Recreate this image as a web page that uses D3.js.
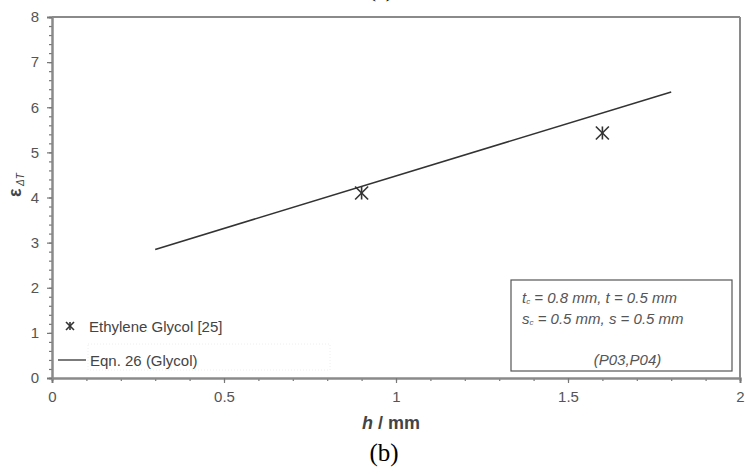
<!DOCTYPE html>
<html>
<head>
<meta charset="utf-8">
<script src="https://cdn.jsdelivr.net/npm/d3@7/dist/d3.min.js"></script>
<style>
  html, body { margin: 0; padding: 0; background: #fff; }
  svg { display: block; }
  text { font-family: "Liberation Sans", Arial, sans-serif; }
</style>
</head>
<body>
<svg id="chart" width="745" height="474"></svg>
<script>
// Measured data: Ethylene Glycol [25]
const measuredH = [0.9, 1.6];
const measuredEps = [4.1, 5.43];
// Eqn. 26 (Glycol) prediction, straight line between its end points
const eqnH = [0.3, 1.8];
const eqnEps = [2.85, 6.34];
// Axis ticks
const xTicks = [0, 0.5, 1, 1.5, 2];
const xTickLabels = ["0", "0.5", "1", "1.5", "2"];
const yTicks = [0, 1, 2, 3, 4, 5, 6, 7, 8];
// Parameter box text
const infoLines = [
  ["t", "c", " = 0.8 mm, t = 0.5 mm"],
  ["s", "c", " = 0.5 mm, s = 0.5 mm"]
];
const infoFooter = "(P03,P04)";
const legendItems = ["Ethylene Glycol [25]", "Eqn. 26 (Glycol)"];

const svg = d3.select("#chart");
const plotL = 52, plotR = 740, plotT = 17, plotB = 378;
const x = d3.scaleLinear().domain([0, 2]).range([plotL, plotR]);
const y = d3.scaleLinear().domain([0, 8]).range([plotB, plotT]);
const axisColor = "#8a8a8a";
const serif = '"Liberation Serif", "Times New Roman", serif';

// Frame: top and right edges
svg.append("line").attr("x1", plotL).attr("x2", plotR).attr("y1", plotT).attr("y2", plotT)
  .attr("stroke", axisColor).attr("stroke-width", 2);
svg.append("line").attr("x1", plotR).attr("x2", plotR).attr("y1", plotT).attr("y2", plotB)
  .attr("stroke", axisColor).attr("stroke-width", 2);

// Minor ticks
const xMinor = d3.range(0, 2.0001, 0.1);
const yMinor = d3.range(0, 8.0001, 0.2);

svg.append("g").attr("transform", `translate(0,${plotB})`)
  .call(d3.axisBottom(x).tickValues(xMinor).tickSize(3).tickFormat(""));
svg.append("g").attr("transform", `translate(0,${plotB})`)
  .call(d3.axisBottom(x).tickValues(xTicks)
    .tickFormat((d, i) => xTickLabels[i]).tickSize(5).tickPadding(8));

svg.append("g").attr("transform", `translate(${plotL},0)`)
  .call(d3.axisLeft(y).tickValues(yMinor).tickSize(3).tickFormat(""));
svg.append("g").attr("transform", `translate(${plotL},0)`)
  .call(d3.axisLeft(y).tickValues(yTicks).tickSize(5).tickPadding(8));

svg.selectAll(".domain").attr("stroke", axisColor).attr("stroke-width", 2);
svg.selectAll(".tick line").attr("stroke", "#777").attr("stroke-width", 1.2);
svg.selectAll(".tick text").attr("fill", "#555").attr("font-size", 15);

// Eqn. 26 line
svg.append("path")
  .datum(eqnH.map((h, i) => [h, eqnEps[i]]))
  .attr("fill", "none").attr("stroke", "#333").attr("stroke-width", 1.6)
  .attr("d", d3.line().x(d => x(d[0])).y(d => y(d[1])));

// Asterisk marker
function star(g, cx, cy, r) {
  const s = g.append("g").attr("transform", `translate(${cx},${cy})`)
    .attr("stroke", "#333").attr("stroke-width", 1.6);
  s.append("line").attr("x1", -r).attr("y1", -r).attr("x2", r).attr("y2", r);
  s.append("line").attr("x1", -r).attr("y1", r).attr("x2", r).attr("y2", -r);
  s.append("line").attr("x1", 0).attr("y1", -r).attr("x2", 0).attr("y2", r);
}
measuredH.forEach((h, i) => star(svg, x(h), y(measuredEps[i]), 6.5));

// Legend
const lg = svg.append("g");
lg.append("rect").attr("x", 88).attr("y", 344).attr("width", 242).attr("height", 26)
  .attr("fill", "none").attr("stroke", "#eee").attr("stroke-dasharray", "1,2");
star(lg, 70, 326, 4);
lg.append("text").attr("x", 89).attr("y", 332).attr("font-size", 15).attr("fill", "#444")
  .text(legendItems[0]);
lg.append("line").attr("x1", 58).attr("x2", 86).attr("y1", 360).attr("y2", 360)
  .attr("stroke", "#333").attr("stroke-width", 1.3);
lg.append("text").attr("x", 90).attr("y", 366).attr("font-size", 15).attr("fill", "#444")
  .text(legendItems[1]);

// Parameter box
const bx = 511, by = 280, bw = 221, bh = 91;
svg.append("rect").attr("x", bx).attr("y", by).attr("width", bw).attr("height", bh)
  .attr("fill", "#fff").attr("stroke", "#555").attr("stroke-width", 1.2);
infoLines.forEach(([main, sub, rest], i) => {
  const t = svg.append("text").attr("x", bx + 11).attr("y", by + 23 + i * 21)
    .attr("font-size", 15).attr("font-style", "italic").attr("fill", "#555");
  t.append("tspan").text(main);
  t.append("tspan").attr("font-size", 8).attr("dy", 1).text(sub);
  t.append("tspan").attr("dy", -1).text(rest);
});
svg.append("text").attr("x", bx + bw / 2 + 6).attr("y", by + 85).attr("text-anchor", "middle")
  .attr("font-size", 15).attr("font-style", "italic").attr("fill", "#555").text(infoFooter);

// Axis titles
svg.append("text").attr("x", 362).attr("y", 429).attr("font-size", 18).attr("font-weight", "bold")
  .attr("fill", "#444")
  .call(t => {
    t.append("tspan").attr("font-style", "italic").text("h");
    t.append("tspan").text(" / mm");
  });
const yt = svg.append("text").attr("transform", "translate(21,185) rotate(-90)")
  .attr("text-anchor", "middle").attr("fill", "#444");
yt.append("tspan").attr("font-size", 18).attr("font-weight", "bold").text("ε");
yt.append("tspan").attr("font-size", 10).attr("font-style", "italic").attr("dy", 3).text(" ΔT");

// Panel captions
svg.append("text").attr("x", 384).attr("y", 461).attr("text-anchor", "middle")
  .style("font-family", serif).attr("font-size", 25)
  .attr("fill", "#000").text("(b)");
svg.append("text").attr("x", 381).attr("y", -3).attr("text-anchor", "middle")
  .style("font-family", serif).attr("font-size", 22)
  .attr("fill", "#000").text("(a)");
</script>
</body>
</html>
